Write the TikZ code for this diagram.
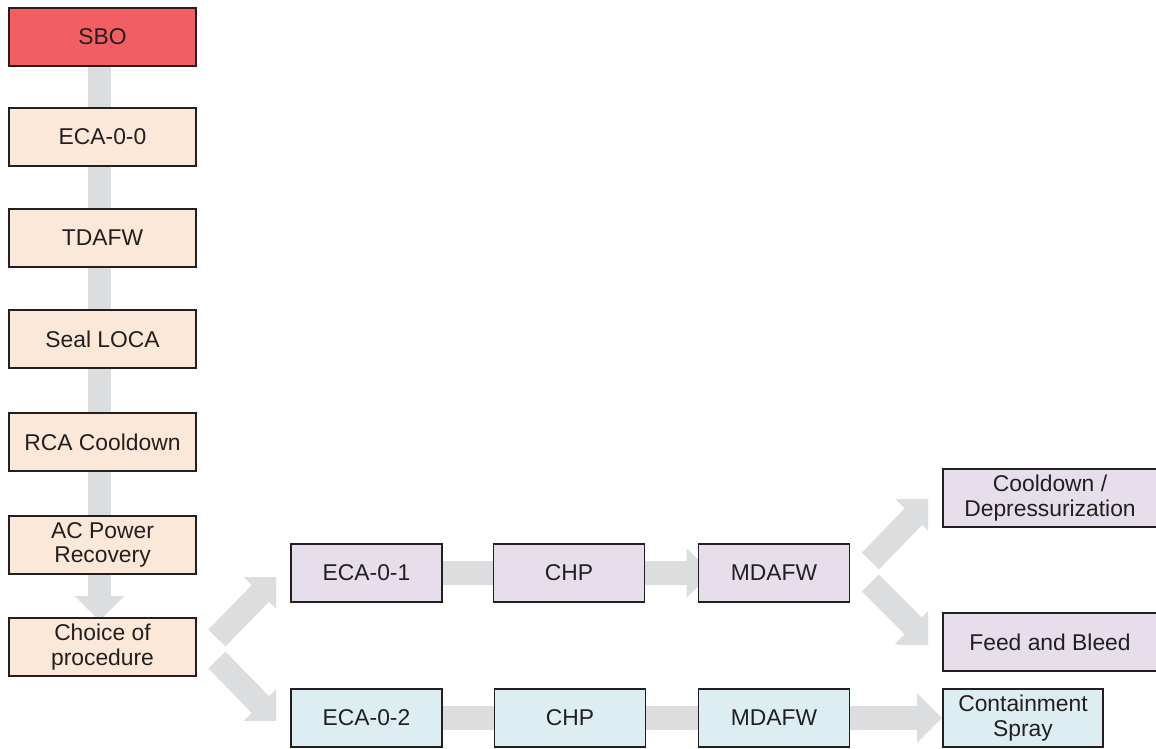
\documentclass[tikz,border=0pt]{standalone}
\usepackage{fontspec}
\setmainfont{Liberation Sans}
\usepackage{xcolor}
\usepackage{tikz}
\usetikzlibrary{arrows.meta,positioning,calc,backgrounds}
\definecolor{sbored}{HTML}{F25E61}
\definecolor{peach}{HTML}{FCE8D8}
\definecolor{lilac}{HTML}{E6DFEB}
\definecolor{paleblue}{HTML}{DDEEF3}
\definecolor{flowgray}{HTML}{DCDDDF}
\definecolor{ink}{HTML}{231F20}

\begin{document}
\begin{tikzpicture}[
  x=0.02cm, y=-0.02cm,
  font=\fontsize{13}{14}\selectfont,
  every node/.style={align=center,text=ink},
  stepbox/.style={draw=ink,line width=1.1pt,inner sep=2pt,
              minimum height=1.16cm},
  leftbox/.style={stepbox,fill=peach,minimum width=3.74cm},
  rowA/.style={stepbox,fill=lilac,minimum width=3.02cm},
  rowB/.style={stepbox,fill=paleblue,minimum width=3.02cm},
  flow/.style={-{Triangle[width=0.96cm,length=0.5cm]},flowgray,line width=0.48cm},
  diag/.style={-{Triangle[width=0.96cm,length=0.85cm]},flowgray,line width=0.48cm},
  hid/.style={shorten >=-0.7cm}
]
\useasboundingbox (0,0) rectangle (1156,749);

% Main sequence
\node[stepbox,fill=sbored,minimum width=3.74cm] (sbo) at (102.5,37) {SBO};
\node[leftbox] (eca0)    at (102.5,137) {ECA-0-0};
\node[leftbox] (tdafw)   at (102.5,238) {TDAFW};
\node[leftbox] (seal)    at (102.5,339) {Seal LOCA};
\node[leftbox] (rca)     at (102.5,442) {RCA Cooldown};
\node[leftbox] (acpower) at (102.5,545) {AC Power\\Recovery};
\node[leftbox] (choice)  at (102.5,647) {Choice of\\procedure};

% Branch 1
\node[rowA] (eca1)   at (366.5,573) {ECA-0-1};
\node[rowA] (chpa)   at (569,573)   {CHP};
\node[rowA] (mdafwa) at (774,573)   {MDAFW};
\node[rowA,minimum width=4.28cm] (cool) at (1050,498) {Cooldown /\\Depressurization};
\node[rowA,minimum width=4.28cm] (feed) at (1050,642) {Feed and Bleed};

% Branch 2
\node[rowB] (eca2)   at (366.5,718) {ECA-0-2};
\node[rowB] (chpb)   at (570,718)   {CHP};
\node[rowB] (mdafwb) at (774,718)   {MDAFW};
\node[rowB,minimum width=3.2cm] (spray) at (1023,718) {Containment\\Spray};

% Flow arrows (behind the boxes)
\begin{scope}[on background layer]
\draw[flow,hid] ([shift={(-3,0)}]sbo.south) -- ([shift={(-3,0)}]eca0.north);
\draw[flow,hid] ([shift={(-3,0)}]eca0.south) -- ([shift={(-3,0)}]tdafw.north);
\draw[flow,hid] ([shift={(-3,0)}]tdafw.south) -- ([shift={(-3,0)}]seal.north);
\draw[flow,hid] ([shift={(-3,0)}]seal.south) -- ([shift={(-3,0)}]rca.north);
\draw[flow,hid] ([shift={(-3,0)}]rca.south) -- ([shift={(-3,0)}]acpower.north);
\draw[flow,shorten >=-0.08cm] ([shift={(-3,0)}]acpower.south) -- ([shift={(-3,0)}]choice.north);

\draw[flow,hid] (eca1) -- (chpa);
\draw[flow,shorten >=-0.28cm] (chpa) -- (mdafwa);
\draw[flow,hid] (eca2) -- (chpb);
\draw[flow,hid] (chpb) -- (mdafwb);
\draw[flow] (mdafwb) -- (spray);

% diagonal branches, heads cut square
\begin{scope}
\clip (choice.south east) rectangle ([shift={(-14,4)}]eca1.west);
\draw[diag] ([shift={(20,-9)}]choice.east) -- ([shift={(0,-10)}]eca1.west);
\end{scope}
\begin{scope}
\clip (choice.north east) rectangle ([shift={(-14,2)}]eca2.west);
\draw[diag] ([shift={(20,13)}]choice.east) -- ([shift={(0,17)}]eca2.west);
\end{scope}
\begin{scope}
\clip (mdafwa.south east) rectangle ([shift={(-14,2)}]cool.west);
\draw[diag] ([shift={(20,-12)}]mdafwa.east) -- ([shift={(1,-12)}]cool.west);
\end{scope}
\begin{scope}
\clip (mdafwa.north east) rectangle ([shift={(-14,2)}]feed.west);
\draw[diag] ([shift={(20,10)}]mdafwa.east) -- ([shift={(1,14)}]feed.west);
\end{scope}
\end{scope}
\end{tikzpicture}
\end{document}
